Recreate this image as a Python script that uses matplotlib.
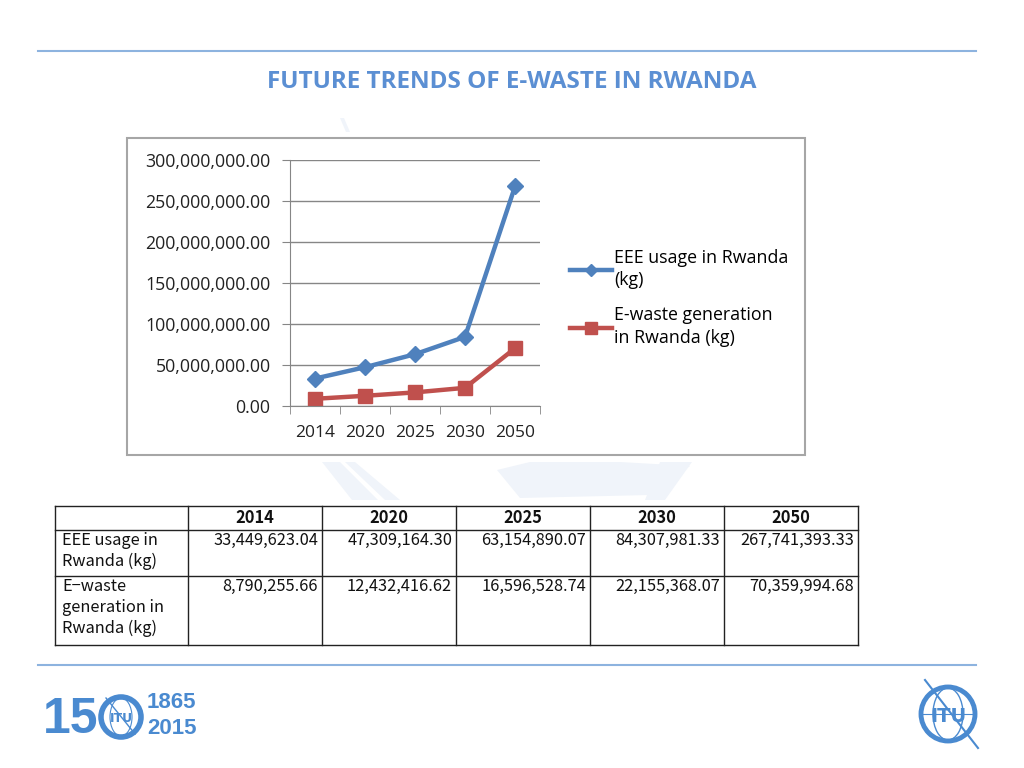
import matplotlib
matplotlib.use("Agg")
import matplotlib.pyplot as plt
from matplotlib.patches import Rectangle, Circle, Polygon, Ellipse
from matplotlib.ticker import FuncFormatter

years = ["2014", "2020", "2025", "2030", "2050"]
eee_usage = [33449623.04, 47309164.30, 63154890.07, 84307981.33, 267741393.33]
ewaste_gen = [8790255.66, 12432416.62, 16596528.74, 22155368.07, 70359994.68]
row_labels = ["EEE usage in\nRwanda (kg)", "E\u2212waste\ngeneration in\nRwanda (kg)"]
series_labels = ["EEE usage in Rwanda\n(kg)", "E-waste generation\nin Rwanda (kg)"]
title = "FUTURE TRENDS OF E-WASTE IN RWANDA"

W, H = 1024, 768
BLUE = "#4F81BD"
RED = "#C0504D"
THEME = "#4A8AD0"
WM = "#F0F4FA"

fig = plt.figure(figsize=(W / 100, H / 100), dpi=100)

# overlay in pixel coordinates
bg = fig.add_axes([0, 0, 1, 1])
bg.set_xlim(0, W)
bg.set_ylim(H, 0)
bg.axis("off")

# faint watermark pieces
bg.add_patch(Polygon([(322, 462), (340, 462), (378, 500), (352, 500)], fc=WM, ec="none"))
bg.add_patch(Polygon([(345, 462), (355, 462), (400, 500), (385, 500)], fc=WM, ec="none"))
bg.add_patch(Polygon([(497, 470), (530, 462), (620, 462), (690, 466), (650, 495), (520, 498)],
                     fc=WM, ec="none"))
bg.add_patch(Polygon([(660, 462), (692, 462), (665, 500), (645, 500)], fc=WM, ec="none"))
bg.add_patch(Polygon([(340, 118), (344, 118), (350, 132), (346, 132)], fc=WM, ec="none"))

bg.plot([38, 976], [51, 51], color="#8DB3DF", lw=1.5)
bg.plot([38, 976], [665, 665], color="#8DB3DF", lw=1.5)
bg.text(512, 82, title, ha="center", va="center", fontsize=17.5,
        fontweight="bold", color="#5B8FD3", family="Open Sans")

# chart frame
bg.add_patch(Rectangle((127, 138), 678, 317, fc="white", ec="#A6A6A6", lw=1.5))


def px_axes(x0, y0, x1, y1):
    return fig.add_axes([x0 / W, 1 - y1 / H, (x1 - x0) / W, (y1 - y0) / H])


ax = px_axes(290, 160, 540, 406)
xs = range(len(years))
ax.plot(xs, eee_usage, color=BLUE, lw=3.2, marker="D", ms=8, label=series_labels[0])
ax.plot(xs, ewaste_gen, color=RED, lw=3.2, marker="s", ms=10, label=series_labels[1])
ax.set_xlim(-0.5, len(years) - 0.5)
ax.set_ylim(0, 300000000)
ax.set_yticks(range(0, 300000001, 50000000))
ax.yaxis.set_major_formatter(FuncFormatter(lambda v, p: f"{v:,.2f}"))
ax.set_xticks(list(xs))
ax.set_xticklabels(years)
ax.set_xticks([i - 0.5 for i in range(len(years) + 1)], minor=True)
ax.tick_params(axis="x", which="major", length=0, pad=14, labelsize=12.5)
ax.tick_params(axis="x", which="minor", length=6, color="#868686", direction="out")
ax.tick_params(axis="y", length=6, color="#868686", labelsize=12.8, pad=8)
for lab in ax.get_xticklabels() + ax.get_yticklabels():
    lab.set_family("Open Sans")
    lab.set_color("#222222")
ax.grid(axis="y", color="#868686", lw=1)
ax.set_axisbelow(True)
for s in ["top", "right"]:
    ax.spines[s].set_visible(False)
ax.spines["left"].set_color("#868686")
ax.spines["bottom"].set_color("#868686")
ax.patch.set_alpha(0)

leg = ax.legend(loc="upper left", bbox_to_anchor=(1.055, 0.705), frameon=False,
                prop={"family": "Open Sans", "size": 12.8}, handlelength=2.4,
                handletextpad=0.1, labelspacing=0.95, markerscale=0.8)
for t in leg.get_texts():
    t.set_linespacing(1.35)

# table
cols = [55, 188, 322, 456, 590, 724, 858]
rows = [506, 530, 576, 645]
lc = "#222222"
for y in rows:
    bg.plot([cols[0], cols[-1]], [y, y], color=lc, lw=1)
for x in cols:
    bg.plot([x, x], [rows[0], rows[-1]], color=lc, lw=1)

tfont = {"family": ["Noto Sans CJK JP", "DejaVu Sans"], "fontsize": 11.8, "color": "#111111"}
for i, yr in enumerate(years):
    cx = (cols[i + 1] + cols[i + 2]) / 2
    bg.text(cx, 518, yr, ha="center", va="center", fontweight="bold", **tfont)
for r, (lab, vals) in enumerate(zip(row_labels, [eee_usage, ewaste_gen])):
    top = rows[r + 1]
    bg.text(cols[0] + 7, top + 2, lab, ha="left", va="top", linespacing=1.3, **tfont)
    for i, v in enumerate(vals):
        bg.text(cols[i + 2] - 4, top + 2, f"{v:,.2f}", ha="right", va="top", **tfont)

# bottom logos
bg.text(43, 720, "15", ha="left", va="center", fontsize=36, fontweight="bold",
        color=THEME, family="Liberation Sans")
bg.add_patch(Circle((121, 717), 20, fill=False, ec=THEME, lw=4))
bg.add_patch(Ellipse((121, 717), 22, 38, fill=False, ec=THEME, lw=0.8))
bg.text(121, 718, "ITU", ha="center", va="center", fontsize=9, fontweight="bold", color=THEME)
bg.plot([106, 135], [698, 734], color=THEME, lw=1)
bg.text(147, 702, "1865", ha="left", va="center", fontsize=16, fontweight="bold",
        color=THEME, family="Liberation Sans")
bg.text(147, 729, "2015", ha="left", va="center", fontsize=16, fontweight="bold",
        color=THEME, family="Liberation Sans")

bg.add_patch(Circle((948, 714), 27, fill=False, ec=THEME, lw=3.5))
bg.add_patch(Ellipse((948, 714), 30, 52, fill=False, ec=THEME, lw=1))
bg.plot([923, 973], [714, 714], color=THEME, lw=0.8)
bg.text(948, 716, "ITU", ha="center", va="center", fontsize=14, fontweight="bold", color=THEME)
bg.plot([925, 978], [680, 748], color=THEME, lw=1.5)

fig.savefig("out.png", dpi=100)
